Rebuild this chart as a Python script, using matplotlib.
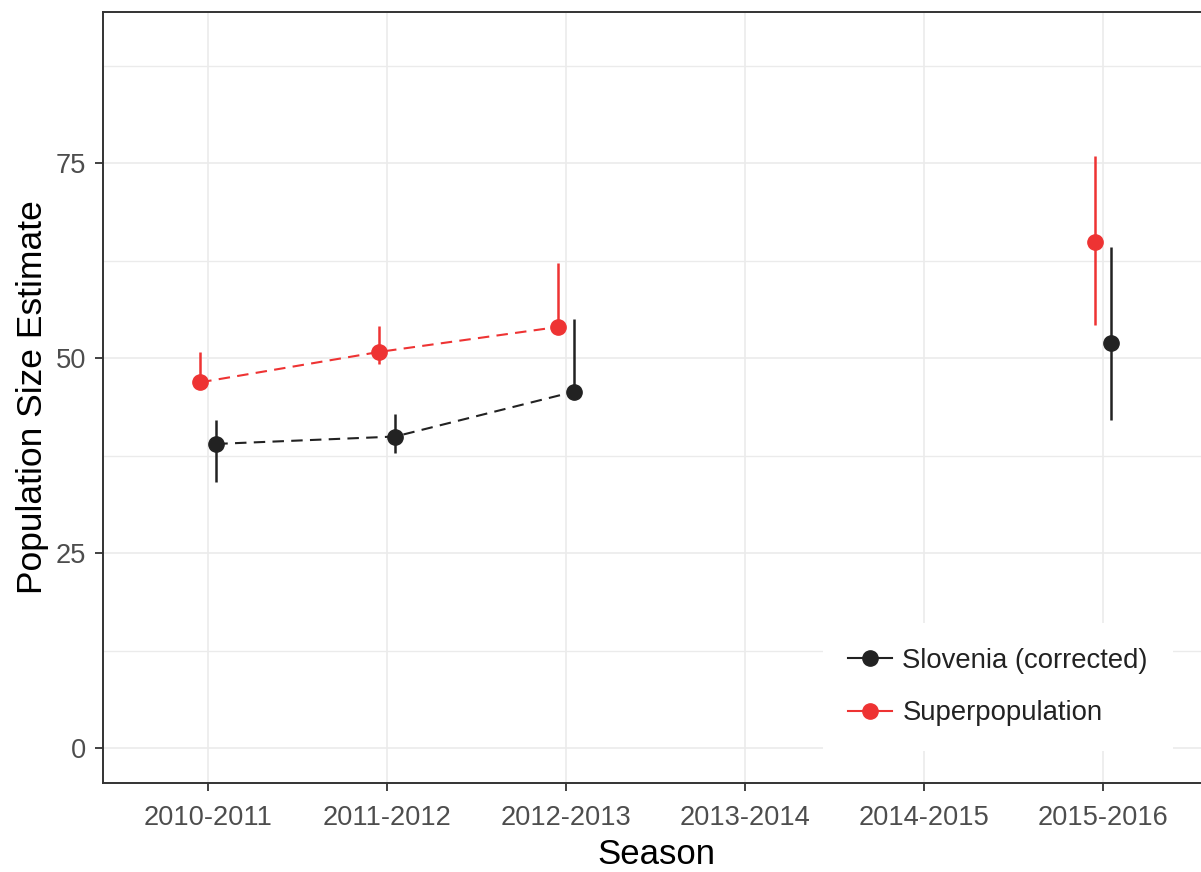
import numpy as np
import matplotlib.pyplot as plt
from matplotlib.lines import Line2D

seasons = ["2010-2011", "2011-2012", "2012-2013", "2013-2014", "2014-2015", "2015-2016"]

# Slovenia (corrected)
slo_est = [39.0, 39.95, 45.7, np.nan, np.nan, 51.9]
slo_lo = [34.1, 37.9, 45.0, np.nan, np.nan, 42.1]
slo_hi = [42.1, 42.9, 55.0, np.nan, np.nan, 64.2]

# Superpopulation
sup_est = [46.9, 50.8, 54.0, np.nan, np.nan, 64.9]
sup_lo = [46.0, 49.2, 53.1, np.nan, np.nan, 54.2]
sup_hi = [50.8, 54.1, 62.2, np.nan, np.nan, 75.9]

black = "#222222"
red = "#EE3333"
plt.rcParams["font.family"] = ["Liberation Sans", "DejaVu Sans"]

fig = plt.figure(figsize=(12.01, 8.72), dpi=100)
ax = fig.add_axes([102.7 / 1201, 1 - 782.7 / 872, (1210 - 102.7) / 1201, (782.7 - 12) / 872])

x = np.arange(len(seasons))
series = [
    ("Superpopulation", sup_est, sup_lo, sup_hi, red, -0.045),
    ("Slovenia (corrected)", slo_est, slo_lo, slo_hi, black, 0.045),
]
for name, est, lo, hi, col, off in series:
    xs = x + off
    est = np.array(est)
    ax.vlines(xs, lo, hi, color=col, lw=1.8, zorder=3)
    ax.plot(xs, est, color=col, lw=1.5, linestyle=(0, (5.5, 3.5)), zorder=3)
    ax.plot(xs, est, "o", color=col, ms=11, zorder=4)

ax.set_xlim(-0.59, 5.6)
ax.set_ylim(-4.45, 94.4)
ax.set_xticks(x)
ax.set_xticklabels(seasons)
ax.set_yticks([0, 25, 50, 75])
ax.set_yticks([12.5, 37.5, 62.5, 87.5], minor=True)
ax.grid(True, which="major", color="#EBEBEB", lw=1.2)
ax.grid(True, which="minor", axis="y", color="#EBEBEB", lw=1.0)
ax.set_axisbelow(True)
ax.tick_params(which="minor", length=0)
ax.tick_params(which="major", length=6, width=1.3, color="#333333",
               labelsize=19.6, labelcolor="#4D4D4D")
ax.tick_params(axis="x", pad=10)
ax.tick_params(axis="y", pad=6)
for s in ax.spines.values():
    s.set_color("#333333")
    s.set_linewidth(1.4)

ax.set_xlabel("Season", fontsize=25, color="black", labelpad=5)
ax.set_ylabel("Population Size Estimate", fontsize=25.5, color="black", labelpad=5)

handles = [
    Line2D([], [], color=black, lw=1.5, marker="o", ms=11),
    Line2D([], [], color=red, lw=1.5, marker="o", ms=11),
]
leg = ax.legend(handles, ["Slovenia (corrected)", "Superpopulation"],
                loc="upper left", bbox_to_anchor=(809 / 1201, 1 - 609 / 872),
                bbox_transform=fig.transFigure, fontsize=19.8, frameon=True,
                facecolor="white", edgecolor="none", framealpha=1,
                handlelength=1.6, handletextpad=0.4, labelspacing=0.98,
                borderpad=0.9)
leg.get_frame().set_boxstyle("square", pad=0)
for t in leg.get_texts():
    t.set_color("#222222")

fig.savefig("out.png", dpi=100)
